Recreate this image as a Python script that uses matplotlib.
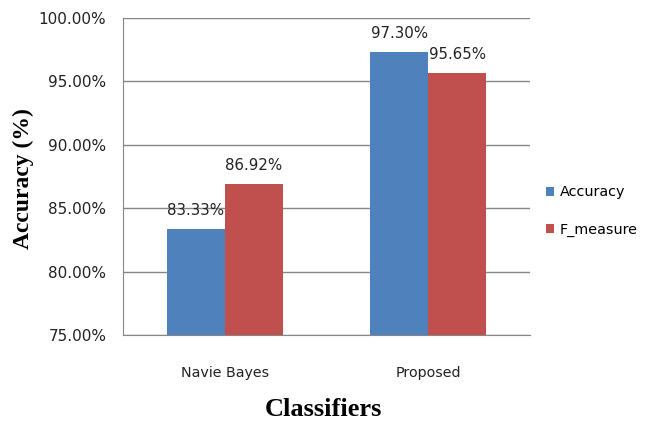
import numpy as np
import matplotlib
matplotlib.use("Agg")
import matplotlib.pyplot as plt
from matplotlib.ticker import FuncFormatter

classifiers = ["Navie Bayes", "Proposed"]
accuracy = [83.33, 97.30]
f_measure = [86.92, 95.65]
yticks = [75, 80, 85, 90, 95, 100]

blue = "#4F81BD"
red = "#C0504D"
grid = "#868686"

fig = plt.figure(figsize=(6.51, 4.24), dpi=100)
ax = fig.add_axes([123 / 651, 1 - 335 / 424, 407 / 651, 317 / 424])

x = np.arange(len(classifiers))
w = 0.285
b1 = ax.bar(x - w / 2, accuracy, width=w, color=blue, label="Accuracy", zorder=3)
b2 = ax.bar(x + w / 2, f_measure, width=w, color=red, label="F_measure", zorder=3)

for bars, vals in [(b1, accuracy), (b2, f_measure)]:
    for rect, v in zip(bars, vals):
        ax.annotate(f"{v:.2f}%", (rect.get_x() + rect.get_width() / 2, v),
                    xytext=(0, 13.5), textcoords="offset points",
                    ha="center", va="center", fontsize=10.8, color="#222222")

ax.set_xlim(-0.5, 1.5)
ax.set_ylim(75, 100)
ax.set_yticks(yticks)
ax.yaxis.set_major_formatter(FuncFormatter(lambda v, p: f"{v:.2f}%"))
ax.set_xticks(x)
ax.set_xticklabels(classifiers)
ax.tick_params(axis="y", length=0, labelsize=11, colors="#222222", pad=12)
ax.tick_params(axis="x", length=0, labelsize=10.3, colors="#222222", pad=22)
ax.yaxis.grid(True, color=grid, linewidth=1, zorder=0)

for s in ["top", "right"]:
    ax.spines[s].set_visible(False)
ax.spines["left"].set_color(grid)
ax.spines["bottom"].set_color(grid)

fig.text(23 / 651, 1 - 179 / 424, "Accuracy (%)", rotation=90, ha="center", va="center",
         family="Liberation Serif", fontweight="bold", fontsize=17)
fig.text(323 / 651, 1 - 409 / 424, "Classifiers", ha="center", va="center",
         family="Liberation Serif", fontweight="bold", fontsize=19)

ax.legend(loc="center left", bbox_to_anchor=(533 / 651, 1 - 211 / 424),
          bbox_transform=fig.transFigure, frameon=False, fontsize=10.4,
          handlelength=0.55, handleheight=0.55, handletextpad=0.4, labelspacing=1.6)

fig.savefig("out.png", dpi=100)
